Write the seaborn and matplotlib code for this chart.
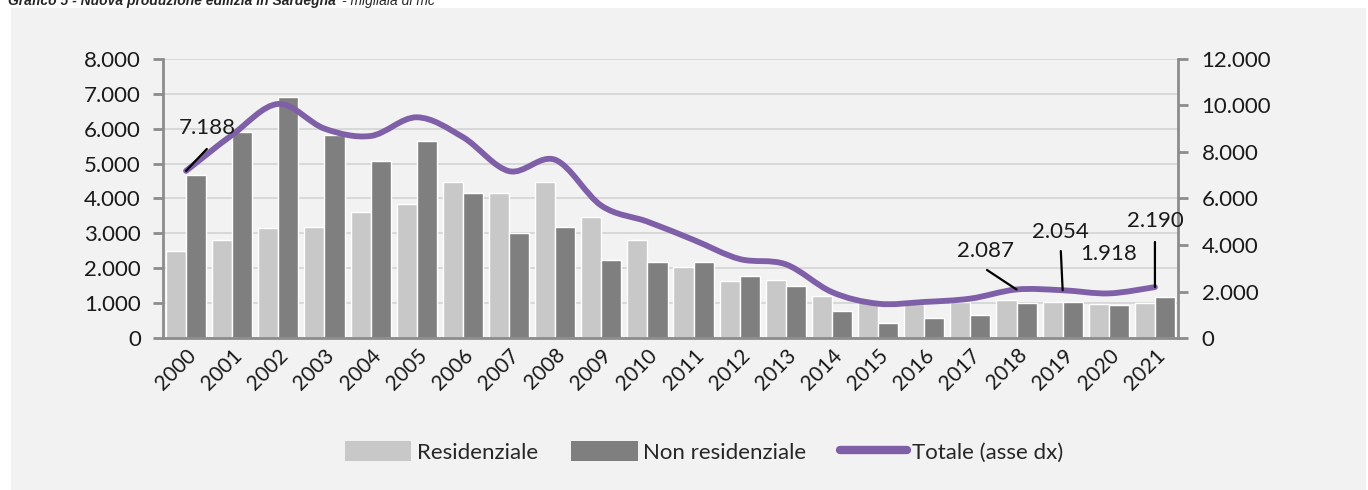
import matplotlib
matplotlib.use("Agg")
import matplotlib.pyplot as plt
import numpy as np
import pandas as pd
import seaborn as sns
from matplotlib.patches import Patch, PathPatch, Rectangle
from matplotlib.lines import Line2D
from matplotlib.path import Path
from matplotlib.ticker import FuncFormatter, FixedLocator

sns.set_style("white")
plt.rcParams["font.family"] = ["Lato", "DejaVu Sans"]

# dati (migliaia di mc)
anni = [str(a) for a in range(2000, 2022)]
residenziale = [2500, 2823, 3148, 3187, 3608, 3847, 4478, 4163, 4478, 3464, 2823,
                2038, 1627, 1675, 1215, 1040, 976, 1024, 1097, 1021, 980, 1013]
non_residenziale = [4670, 5914, 6919, 5818, 5081, 5646, 4163, 3014, 3187, 2230, 2182,
                    2182, 1770, 1493, 760, 435, 574, 670, 990, 1033, 938, 1177]
totale = [7188, 8737, 10067, 9005, 8689, 9493, 8641, 7177, 7665, 5694, 5005,
          4220, 3397, 3168, 1975, 1475, 1550, 1694, 2087, 2054, 1918, 2190]
etichette = {0: "7.188", 18: "2.087", 19: "2.054", 20: "1.918", 21: "2.190"}

df = pd.DataFrame({
    "anno": anni * 2,
    "valore": residenziale + non_residenziale,
    "tipo": ["Residenziale"] * len(anni) + ["Non residenziale"] * len(anni),
})

col_res = "#c8c8c8"
col_non = "#7f7f7f"
col_tot = "#7f60a8"
col_axis = "#8c8c8c"

fig = plt.figure(figsize=(13.68, 4.9), dpi=100)
fig.patch.set_facecolor("white")
fig.patches.append(Rectangle((11 / 1368, 0), (1366 - 11) / 1368, (490 - 8) / 490,
                             transform=fig.transFigure, facecolor="#f2f2f2",
                             edgecolor="none", zorder=-10))

# titolo (tagliato in alto come nell'originale)
t1 = fig.text(8 / 1368, 1 - 5 / 490, "Grafico 5 - Nuova produzione edilizia in Sardegna ",
              fontsize=10, fontweight="bold", fontstyle="italic", va="baseline",
              family=["Liberation Sans", "DejaVu Sans"])
fig.canvas.draw()
bb = t1.get_window_extent(fig.canvas.get_renderer())
fig.text(bb.x1 / fig.bbox.width + 2 / 1368, 1 - 5 / 490, "- migliaia di mc", fontsize=10,
         fontstyle="italic", va="baseline", family=["Liberation Sans", "DejaVu Sans"])

ax = fig.add_axes([163 / 1368, (490 - 338) / 490, (1178 - 163) / 1368, (338 - 59) / 490])
ax.set_facecolor("none")
sns.barplot(data=df, x="anno", y="valore", hue="tipo",
            palette={"Residenziale": col_res, "Non residenziale": col_non},
            width=0.87, saturation=1, ax=ax, legend=False)

ax.set_xlim(-0.5, len(anni) - 0.5)
ax.set_ylim(0, 8000)
ax.set_yticks(np.arange(0, 8001, 1000))
fmt = FuncFormatter(lambda v, p: f"{v:,.0f}".replace(",", "."))
ax.yaxis.set_major_formatter(fmt)
ax.set_xlabel("")
ax.set_ylabel("")
ax.set_axisbelow(True)
ax.yaxis.grid(True, color="#d6d6d6", lw=1.3)

for s in ["top", "right"]:
    ax.spines[s].set_visible(False)
for s in ["left", "bottom"]:
    ax.spines[s].set_color(col_axis)
    ax.spines[s].set_linewidth(2)

ax.tick_params(axis="y", length=7, width=2, color=col_axis, labelsize=16, pad=9,
               labelcolor="#1a1a1a")
ax.tick_params(axis="x", which="major", length=0, labelsize=15, pad=5, labelcolor="#1a1a1a")
ax.xaxis.set_minor_locator(FixedLocator(np.arange(-0.5, len(anni), 1)))
ax.tick_params(axis="x", which="minor", length=7, width=2, color=col_axis)
for lab in ax.get_xticklabels():
    lab.set_rotation(45)
    lab.set_ha("right")
    lab.set_rotation_mode("anchor")

# asse destro: totale con linea smussata
ax2 = ax.twinx()
ax2.set_ylim(0, 12000)
ax2.set_yticks(np.arange(0, 12001, 2000))
ax2.yaxis.set_major_formatter(fmt)
for s in ["top", "left", "bottom"]:
    ax2.spines[s].set_visible(False)
ax2.spines["right"].set_color(col_axis)
ax2.spines["right"].set_linewidth(2)
ax2.tick_params(axis="y", length=7, width=2, color=col_axis, labelsize=16, pad=10,
                labelcolor="#1a1a1a")

xs = np.arange(len(totale), dtype=float)
pts = np.column_stack([xs, np.array(totale, dtype=float)])
verts = [pts[0]]
codes = [Path.MOVETO]
n = len(pts)
for i in range(n - 1):
    p0 = pts[max(i - 1, 0)]
    p1 = pts[i]
    p2 = pts[i + 1]
    p3 = pts[min(i + 2, n - 1)]
    verts += [p1 + (p2 - p0) / 6, p2 - (p3 - p1) / 6, p2]
    codes += [Path.CURVE4] * 3
ax2.add_patch(PathPatch(Path(verts, codes), facecolor="none", edgecolor=col_tot,
                        lw=4.2, capstyle="round", zorder=5))

# etichette dati con linee di richiamo
pos_testo = {0: (0.45, 9030), 18: (17.32, 3740), 19: (18.96, 4560),
             20: (20.0, 3610), 21: (21.0, 5030)}
pos_linea = {0: (0.45, 8130), 18: (17.36, 2925), 19: (18.96, 3740), 21: (21.0, 4130)}
for i, txt in etichette.items():
    tx, ty = pos_testo[i]
    ax2.text(tx, ty, txt, ha="center", va="center", fontsize=16, color="#1a1a1a", zorder=6)
    if i in pos_linea:
        ax2.annotate("", xy=(i, totale[i]), xytext=pos_linea[i],
                     arrowprops=dict(arrowstyle="-", color="black", lw=1.6,
                                     shrinkA=0, shrinkB=0), zorder=6)

handles = [Patch(facecolor=col_res, edgecolor="none"),
           Patch(facecolor=col_non, edgecolor="none"),
           Line2D([0], [0], color=col_tot, lw=6, solid_capstyle="round")]
fig.legend(handles, ["Residenziale", "Non residenziale", "Totale (asse dx)"],
           loc="center", bbox_to_anchor=(704 / 1368, 1 - 452 / 490), ncol=3,
           frameon=False, fontsize=16, handlelength=3.0, handleheight=1.0,
           handletextpad=0.25, columnspacing=1.5)

fig.savefig("out.png", dpi=100, facecolor="white")
